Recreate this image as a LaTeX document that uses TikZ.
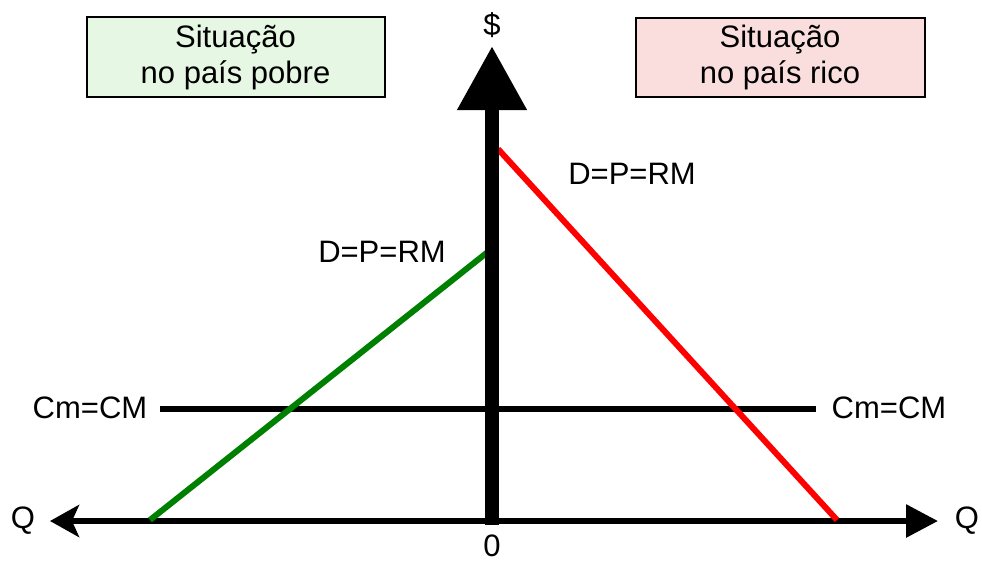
\documentclass[tikz,border=0pt]{standalone}
\usepackage{fontspec}
\setmainfont{Liberation Sans}
\usetikzlibrary{arrows.meta}
\definecolor{boxgreen}{HTML}{E6F8E4}
\definecolor{boxpink}{HTML}{FADEDE}
\definecolor{lgreen}{HTML}{008000}
\begin{document}
\begin{tikzpicture}[x=1pt,y=-1pt,
  lbl/.style={font=\fontsize{31}{36}\selectfont, inner sep=0pt},
  titlebox/.style={draw=black, line width=2pt, align=center, font=\fontsize{31}{36}\selectfont, inner sep=0pt},
  axis/.style={line width=6pt, black},
  curve/.style={line width=6pt}]
\useasboundingbox (0,0) rectangle (982,563);
% boxes
\node[titlebox, fill=boxgreen, minimum width=298pt, minimum height=80pt] (bpoor) at (235.5,57) {Situação\\no país pobre};
\node[titlebox, fill=boxpink, minimum width=289pt, minimum height=79pt] (brich) at (780,57.5) {Situação\\no país rico};
% coordinates
\coordinate (O) at (492,521);
\coordinate (Obot) at (492,525);
\coordinate (ytop) at (492,46);
\coordinate (xl) at (50,521);
\coordinate (xr) at (938,521);
\coordinate (cmL) at (160,409);
\coordinate (cmR) at (816,409);
\coordinate (gA) at (150,520);
\coordinate (gB) at (489,251);
\coordinate (rA) at (498,149);
\coordinate (rB) at (837,520);
% cost line
\draw[axis] (cmL) -- (cmR);
% horizontal axis
\draw[axis, -{Stealth[length=29pt, width=32pt, inset=7pt]}] (O) -- (xl);
\draw[axis, -{Triangle[length=32pt, width=32pt]}] (O) -- (xr);
% demand lines
\draw[curve, lgreen] (gA) -- (gB);
\draw[curve, red] (rA) -- (rB);
% vertical axis
\draw[line width=14pt, -{Triangle[length=64pt, width=66pt]}] (Obot) -- (ytop);
% labels
\node[lbl] (dollar) at (492,25) {\$};
\node[lbl] (qleft) at (23,521) {Q};
\node[lbl] (qright) at (967,521) {Q};
\node[lbl] (zero) at (492,546) {0};
\node[lbl] (cmlab1) at (90,408) {Cm=CM};
\node[lbl] (cmlab2) at (889,408) {Cm=CM};
\node[lbl] (dlab1) at (382,252) {D=P=RM};
\node[lbl] (dlab2) at (632,174) {D=P=RM};
\end{tikzpicture}
\end{document}
